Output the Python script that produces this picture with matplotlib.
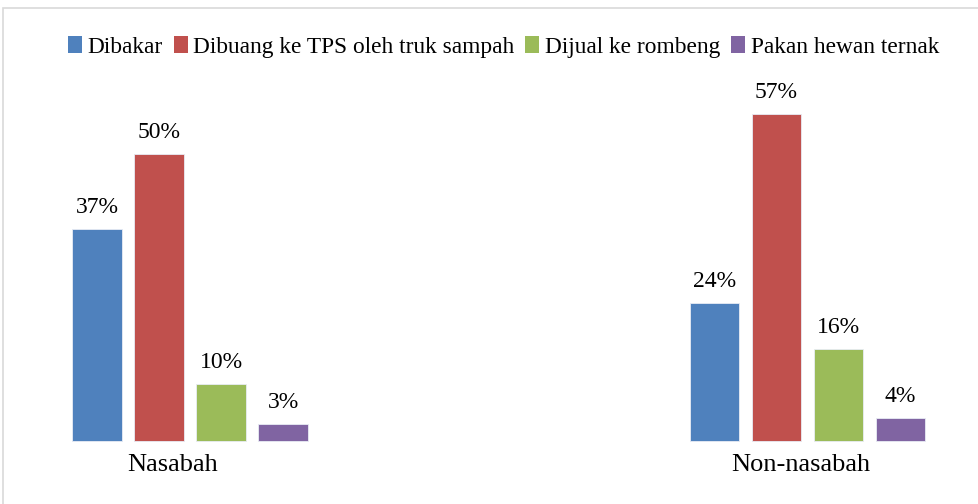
import numpy as np
import matplotlib
matplotlib.use("Agg")
from matplotlib import pyplot as plt
from matplotlib.patches import Patch, Rectangle

# Daten
kategorien = ["Nasabah", "Non-nasabah"]
serien = ["Dibakar", "Dibuang ke TPS oleh truk sampah", "Dijual ke rombeng", "Pakan hewan ternak"]
werte = {
    "Dibakar": [37, 24],
    "Dibuang ke TPS oleh truk sampah": [50, 57],
    "Dijual ke rombeng": [10, 16],
    "Pakan hewan ternak": [3, 4],
}
farben = ["#4F81BD", "#C0504D", "#9BBB59", "#8064A2"]

plt.rcParams["font.family"] = ["Liberation Serif", "DejaVu Serif"]

fig = plt.figure(figsize=(9.79, 5.04), dpi=100)
ax = fig.add_axes([0, 0, 1, 1])

x = np.arange(len(kategorien))
breite = 0.0794
abstand = 0.1004

for i, name in enumerate(serien):
    pos = x + (i - 1.5) * abstand
    ax.bar(pos, werte[name], breite, color=farben[i], edgecolor="#E8ECF4",
           linewidth=0.6, label=name, zorder=2)
    for p, v in zip(pos, werte[name]):
        ax.text(p, v + 2.8, "{}%".format(v), ha="center", va="baseline", fontsize=17)

# Kategorienbeschriftung (im Original leicht nach links versetzt)
versatz = [-0.0275, -0.0105]
for xi, kat, dx in zip(x, kategorien, versatz):
    ax.text(xi + dx, -5.23, kat, ha="center", va="baseline", fontsize=19)

ax.set_xlim(-0.3077, 1.2777)
ax.set_ylim(-10.98, 76.83)
ax.axis("off")

# Legende
handles = [Patch(facecolor=c) for c in farben]
fig.legend(handles, serien, loc="center", bbox_to_anchor=(0.5143, 1 - 47 / 504), ncol=4,
           frameon=False, fontsize=16.8, handlelength=0.6, handleheight=0.75,
           handletextpad=0.25, columnspacing=0.45, borderpad=0)

# Rahmen (nur oben und links sichtbar)
fig.patches.append(Rectangle((3 / 979, -0.1), 1.2, 1 - 8 / 504 + 0.1, transform=fig.transFigure,
                             fill=False, edgecolor="#D9D9D9", linewidth=1.2))

fig.savefig("out.png", dpi=100)
